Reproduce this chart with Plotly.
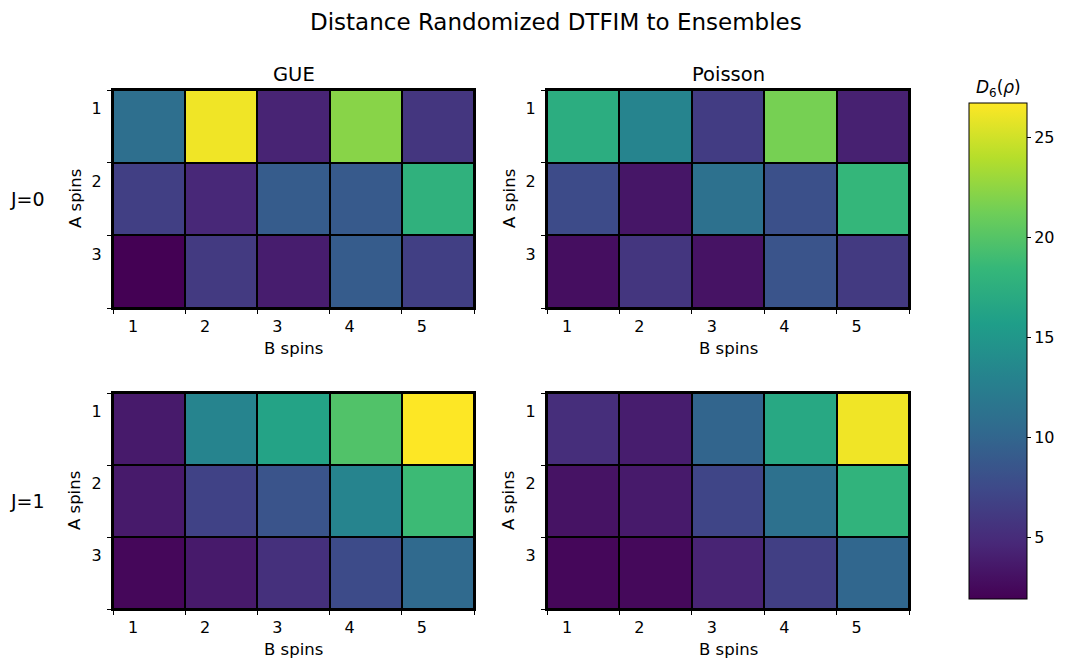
import plotly.graph_objects as go

b_spins = [1, 2, 3, 4, 5]
a_spins = [1, 2, 3]
b_labels = ["1", "2", "3", "4", "5"]
a_labels = ["1", "2", "3"]

gue_j0 = [[10.9, 26.2, 4.4, 22.2, 5.9],
          [6.6, 4.7, 9.1, 9.0, 17.8],
          [1.95, 6.2, 3.9, 9.1, 6.6]]
poisson_j0 = [[17.3, 13.1, 6.4, 21.5, 4.2],
              [7.6, 3.4, 11.1, 8.1, 18.3],
              [2.9, 5.9, 3.2, 8.4, 6.2]]
gue_j1 = [[3.7, 13.1, 16.3, 19.8, 26.7],
          [3.7, 6.9, 8.4, 13.1, 18.8],
          [2.4, 3.7, 5.4, 7.6, 10.4]]
poisson_j1 = [[5.2, 3.9, 9.9, 16.8, 26.2],
              [3.2, 3.7, 7.1, 11.1, 18.0],
              [2.4, 2.5, 4.4, 6.6, 10.1]]

panels = [gue_j0, poisson_j0, gue_j1, poisson_j1]
col_titles = ["GUE", "Poisson"]
row_titles = ["J=0", "J=1"]
cmin, cmax = 1.95, 26.7
cb_ticks = [5, 10, 15, 20, 25]

W, H = 1065, 665
FONT = "DejaVu Sans"

# pixel boxes of panels: (left, right, top, bottom)
xdom_px = [(113, 474), (547, 909)]
ydom_px = [(90, 308), (393, 609)]

fig = go.Figure()
for i, z in enumerate(panels):
    r, c = divmod(i, 2)
    n = i + 1
    xa = "x" if n == 1 else f"x{n}"
    ya = "y" if n == 1 else f"y{n}"
    fig.add_trace(go.Heatmap(z=z, x=b_spins, y=a_spins, coloraxis="coloraxis",
                             xgap=2, ygap=2, xaxis=xa, yaxis=ya,
                             hovertemplate="B=%{x}, A=%{y}: %{z}<extra></extra>"))
    xl, xr = xdom_px[c]
    yt, yb = ydom_px[r]
    xkey = "xaxis" if n == 1 else f"xaxis{n}"
    ykey = "yaxis" if n == 1 else f"yaxis{n}"
    fig.layout[xkey] = dict(
        domain=[xl / W, xr / W], anchor=ya, range=[0.5, 5.5],
        tickmode="array", tickvals=[v - 0.5 + 0.277 for v in b_spins], ticktext=b_labels,
        ticks="", showgrid=False, zeroline=False,
        showline=True, mirror=True, linecolor="black", linewidth=2,
        tickfont=dict(family=FONT, size=16, color="black"),
        ticklabelstandoff=3,
        minor=dict(tickmode="array", tickvals=[v - 0.5 for v in b_spins] + [5.5],
                   ticks="outside", ticklen=4, tickcolor="black", tickwidth=1,
                   showgrid=False),
        fixedrange=True)
    fig.layout[ykey] = dict(
        domain=[1 - yb / H, 1 - yt / H], anchor=xa, range=[3.5, 0.5],
        tickmode="array", tickvals=[v - 0.5 + 0.26 for v in a_spins], ticktext=a_labels,
        ticks="", showgrid=False, zeroline=False,
        showline=True, mirror=True, linecolor="black", linewidth=2,
        tickfont=dict(family=FONT, size=16, color="black"),
        ticklabelstandoff=6,
        minor=dict(tickmode="array", tickvals=[v - 0.5 for v in a_spins] + [3.5],
                   ticks="outside", ticklen=4, tickcolor="black", tickwidth=1,
                   showgrid=False),
        fixedrange=True)

annotations = []
def ann(text, x, y, size, angle=0):
    annotations.append(dict(text=text, x=x / W, y=1 - y / H, xref="paper", yref="paper",
                            showarrow=False, xanchor="center", yanchor="middle",
                            textangle=angle, font=dict(family=FONT, size=size, color="black")))

ann("Distance Randomized DTFIM to Ensembles", 556, 22, 23)
for c, t in enumerate(col_titles):
    xl, xr = xdom_px[c]
    ann(t, (xl + xr) / 2, 75, 19.5)
for r in range(2):
    yt, yb = ydom_px[r]
    ym = (yt + yb) / 2
    ann(row_titles[r], 27, ym, 19)
    for c in range(2):
        xl, xr = xdom_px[c]
        ann("A spins", xl - 38, ym, 16.5, angle=-90)
        ann("B spins", (xl + xr) / 2, yb + 40, 16.5)
ann("<i>D</i><sub>6</sub>(<i>ρ</i>)", 998, 88, 17)

fig.update_layout(
    width=W, height=H,
    margin=dict(l=0, r=0, t=0, b=0),
    paper_bgcolor="white", plot_bgcolor="black",
    font=dict(family=FONT, color="black"),
    annotations=annotations,
    coloraxis=dict(
        colorscale="Viridis", cmin=cmin, cmax=cmax,
        colorbar=dict(
            x=969 / W, xanchor="left", xpad=0, ypad=0,
            y=1 - 351 / H, yanchor="middle", len=496 / H, lenmode="fraction",
            thickness=58, thicknessmode="pixels",
            outlinewidth=1, outlinecolor="black",
            tickmode="array", tickvals=cb_ticks, ticks="outside", ticklen=4,
            tickcolor="black", tickfont=dict(family=FONT, size=16, color="black"),
        ),
    ),
)

fig.write_html("out.html", config={"displayModeBar": False},
               post_script="document.body.style.margin='0';")
